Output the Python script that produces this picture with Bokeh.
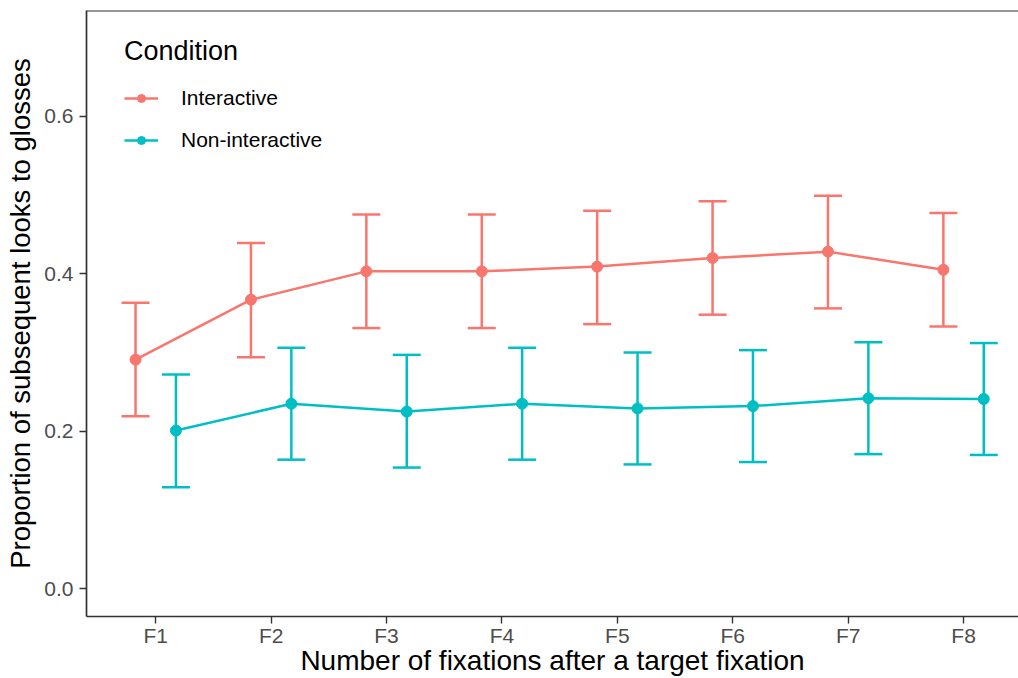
from bokeh.plotting import figure
from bokeh.models import (Range1d, FixedTicker, Legend, LegendItem, Span,
                          ColumnDataSource, Whisker, TeeHead)
from bokeh.embed import file_html
from bokeh.resources import INLINE

# ---------------- data ----------------
categories = ["F1", "F2", "F3", "F4", "F5", "F6", "F7", "F8"]

interactive_mean = [0.291, 0.367, 0.403, 0.403, 0.409, 0.420, 0.428, 0.405]
interactive_lower = [0.219, 0.294, 0.331, 0.331, 0.336, 0.348, 0.356, 0.333]
interactive_upper = [0.363, 0.439, 0.475, 0.475, 0.480, 0.492, 0.499, 0.477]

noninteractive_mean = [0.201, 0.235, 0.225, 0.235, 0.229, 0.232, 0.242, 0.241]
noninteractive_lower = [0.129, 0.164, 0.154, 0.164, 0.158, 0.161, 0.171, 0.170]
noninteractive_upper = [0.272, 0.306, 0.297, 0.306, 0.300, 0.303, 0.313, 0.312]

y_ticks = [0.0, 0.2, 0.4, 0.6]
y_tick_labels = ["0.0", "0.2", "0.4", "0.6"]

series_names = ["Interactive", "Non-interactive"]
series_colors = ["#F8766D", "#00BFC4"]

x_title = "Number of fixations after a target fixation"
y_title = "Proportion of subsequent looks to glosses"

# ---------------- layout ----------------
FONT = "Liberation Sans"
AXIS_COLOR = "#333333"
DODGE = 0.175

positions = list(range(1, len(categories) + 1))

p = figure(width=1018, height=678, output_backend="svg", toolbar_location=None,
           x_range=Range1d(0.4, 8.476), y_range=Range1d(-0.035, 0.734),
           min_border_left=86, min_border_right=0, min_border_top=10,
           min_border_bottom=61)

p.outline_line_color = None
p.xgrid.visible = False
p.ygrid.visible = False
p.background_fill_color = "white"
p.border_fill_color = "white"

renderers = []
for name, color, mean, lo, hi, off in [
        (series_names[0], series_colors[0], interactive_mean, interactive_lower, interactive_upper, -DODGE),
        (series_names[1], series_colors[1], noninteractive_mean, noninteractive_lower, noninteractive_upper, DODGE)]:
    src = ColumnDataSource(dict(x=[q + off for q in positions], y=mean, lower=lo, upper=hi))
    w = Whisker(source=src, base="x", lower="lower", upper="upper",
                line_color=color, line_width=2.5,
                upper_head=TeeHead(size=28, line_color=color, line_width=2.5),
                lower_head=TeeHead(size=28, line_color=color, line_width=2.5))
    p.add_layout(w)
    lr = p.line("x", "y", source=src, line_color=color, line_width=2.5)
    sr = p.scatter("x", "y", source=src, size=11, fill_color=color, line_color=color)
    renderers.append((name, lr, sr))

# axes
p.xaxis.ticker = FixedTicker(ticks=positions)
p.xaxis.major_label_overrides = {q: c for q, c in zip(positions, categories)}
p.yaxis.ticker = FixedTicker(ticks=y_ticks)
p.yaxis.major_label_overrides = {v: s for v, s in zip(y_ticks, y_tick_labels)}

p.xaxis.axis_label = x_title
p.yaxis.axis_label = y_title

for ax in (p.xaxis[0], p.yaxis[0]):
    ax.axis_line_color = AXIS_COLOR
    ax.axis_line_width = 1.7
    ax.major_tick_line_color = AXIS_COLOR
    ax.major_tick_line_width = 1.4
    ax.major_tick_out = 7
    ax.major_tick_in = 0
    ax.minor_tick_line_color = None
    ax.major_label_text_font = FONT
    ax.major_label_text_font_size = "21px"
    ax.major_label_text_color = "#4d4d4d"
    ax.axis_label_text_font = FONT
    ax.axis_label_text_font_style = "normal"
    ax.axis_label_text_color = "black"

p.xaxis.axis_label_text_font_size = "28px"
p.yaxis.axis_label_text_font_size = "27.5px"

p.xaxis.major_label_standoff = 0
p.xaxis.axis_label_standoff = -5
p.yaxis.major_label_standoff = 6
p.yaxis.axis_label_standoff = 5

# top border line
p.add_layout(Span(location=0.734, dimension="width", line_color=AXIS_COLOR, line_width=2))

# legend
legend = Legend(
    items=[LegendItem(label=n, renderers=[lr, sr]) for n, lr, sr in renderers],
    title="Condition", location=(38, 455),
    title_text_font=FONT, title_text_font_size="27px", title_text_font_style="normal",
    title_text_color="black", title_standoff=10,
    label_text_font=FONT, label_text_font_size="21px", label_text_color="black",
    glyph_width=34, glyph_height=20, label_height=42, spacing=0, padding=0,
    margin=0, label_standoff=23, border_line_color=None, background_fill_alpha=0)
p.add_layout(legend)

open("out.html", "w").write(file_html(p, INLINE))
